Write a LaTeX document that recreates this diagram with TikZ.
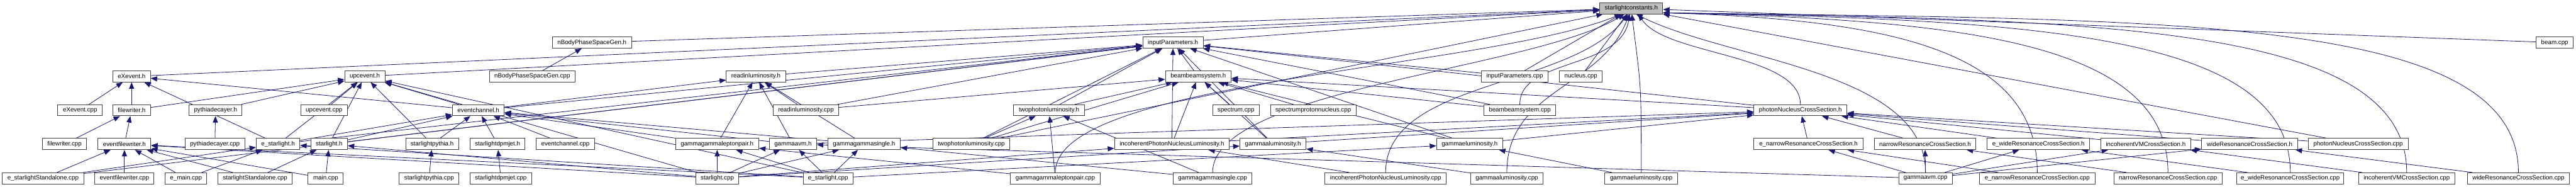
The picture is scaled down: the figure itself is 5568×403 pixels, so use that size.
\documentclass[tikz,border=0pt]{standalone}
\usepackage{fontspec}
\setmainfont{Liberation Sans}
\usepackage{xcolor}
\definecolor{inclblue}{RGB}{25, 25, 112}
\definecolor{boxgray}{RGB}{64, 64, 64}
\usetikzlibrary{
  arrows.meta,
  backgrounds
}

\tikzset{
  file/.style={draw=boxgray, fill=white, line width=1.3pt, minimum height=24pt,
               inner sep=0pt, font=\fontsize{13.3}{16}\selectfont},
  incl/.style={draw=inclblue, line width=1.1pt, -{Triangle[length=14pt,width=11pt]}}
}

\begin{document}
\begin{tikzpicture}[x=1pt, y=-1pt]
\useasboundingbox (0,0) rectangle (5568,403);
% row 0
\node[file, minimum width=136pt, fill=gray!50] (sc) at (3526,18) {starlightconstants.h};
% row 1
\node[file, minimum width=171pt] (nbh) at (1279.5,92) {nBodyPhaseSpaceGen.h};
\node[file, minimum width=131pt] (iph) at (2535.5,92) {inputParameters.h};
\node[file, minimum width=80pt] (beamc) at (5522,92) {beam.cpp};
% row 2
\node[file, minimum width=81pt] (exh) at (284.5,165) {eXevent.h};
\node[file, minimum width=87pt] (uph) at (788.5,165) {upcevent.h};
\node[file, minimum width=185pt] (nbc) at (1150.5,165) {nBodyPhaseSpaceGen.cpp};
\node[file, minimum width=128pt] (rlh) at (1634,165) {readinluminosity.h};
\node[file, minimum width=142pt] (bbh) at (2590,165) {beambeamsystem.h};
\node[file, minimum width=144pt] (ipc) at (3274,165) {inputParameters.cpp};
\node[file, minimum width=92pt] (nuc) at (3417,165) {nucleus.cpp};
% row 3
\node[file, minimum width=96pt] (exc) at (173,238) {eXevent.cpp};
\node[file, minimum width=81pt] (fwh) at (284.5,238) {filewriter.h};
\node[file, minimum width=114pt] (pdh) at (466,238) {pythiadecayer.h};
\node[file, minimum width=101pt] (upc) at (700.5,238) {upcevent.cpp};
\node[file, minimum width=112pt] (ech) at (1034,238) {eventchannel.h};
\node[file, minimum width=142pt] (rlc) at (1742,238) {readinluminosity.cpp};
\node[file, minimum width=153pt] (tplh) at (2267.5,238) {twophotonluminosity.h};
\node[file, minimum width=101pt] (spc) at (2671.5,238) {spectrum.cpp};
\node[file, minimum width=185pt] (sppc) at (2838.5,238) {spectrumprotonnucleus.cpp};
\node[file, minimum width=156pt] (bbc) at (3285,238) {beambeamsystem.cpp};
\node[file, minimum width=201pt] (pnh) at (3891.5,238) {photonNucleusCrossSection.h};
% row 4
\node[file, minimum width=95pt] (fwc) at (139.5,311) {filewriter.cpp};
\node[file, minimum width=114pt] (efwh) at (269,311) {eventfilewriter.h};
\node[file, minimum width=129pt] (pdc) at (464.5,311) {pythiadecayer.cpp};
\node[file, minimum width=94pt] (esh) at (601,311) {e\_starlight.h};
\node[file, minimum width=79pt] (slh) at (711.5,311) {starlight.h};
\node[file, minimum width=114pt] (sph) at (934,311) {starlightpythia.h};
\node[file, minimum width=119pt] (sdh) at (1075.5,311) {starlightdpmjet.h};
\node[file, minimum width=126pt] (ecc) at (1222,311) {eventchannel.cpp};
\node[file, minimum width=180pt] (gglh) at (1550,311) {gammagammaleptonpair.h};
\node[file, minimum width=102pt] (gavh) at (1714,311) {gammaavm.h};
\node[file, minimum width=157pt] (ggsh) at (1867.5,311) {gammagammasingle.h};
\node[file, minimum width=167pt] (tplc) at (2099.5,311) {twophotonluminosity.cpp};
\node[file, minimum width=248pt] (ipnh) at (2533,311) {incoherentPhotonNucleusLuminosity.h};
\node[file, minimum width=143pt] (galh) at (2751.5,311) {gammaaluminosity.h};
\node[file, minimum width=143pt] (gelh) at (3176.5,311) {gammaeluminosity.h};
\node[file, minimum width=236pt] (enrh) at (3909,311) {e\_narrowResonanceCrossSection.h};
\node[file, minimum width=220pt] (nrh) at (4161,311) {narrowResonanceCrossSection.h};
\node[file, minimum width=222pt] (ewrh) at (4406,311) {e\_wideResonanceCrossSection.h};
\node[file, minimum width=194pt] (ivmh) at (4638,311) {incoherentVMCrossSection.h};
\node[file, minimum width=207pt] (wrh) at (4862.5,311) {wideResonanceCrossSection.h};
\node[file, minimum width=216pt] (pnc) at (5097,311) {photonNucleusCrossSection.cpp};
% row 5
\node[file, minimum width=176pt] (essc) at (93,385) {e\_starlightStandalone.cpp};
\node[file, minimum width=128pt] (efwc) at (269,385) {eventfilewriter.cpp};
\node[file, minimum width=90pt] (emc) at (402,385) {e\_main.cpp};
\node[file, minimum width=161pt] (ssc) at (551.5,385) {starlightStandalone.cpp};
\node[file, minimum width=76pt] (mc) at (704,385) {main.cpp};
\node[file, minimum width=129pt] (spyc) at (927.5,385) {starlightpythia.cpp};
\node[file, minimum width=133pt] (sdc) at (1082.5,385) {starlightdpmjet.cpp};
\node[file, minimum width=93pt] (slc) at (1550.5,385) {starlight.cpp};
\node[file, minimum width=108pt] (esc) at (1790,385) {e\_starlight.cpp};
\node[file, minimum width=194pt] (gglc) at (2281,385) {gammagammaleptonpair.cpp};
\node[file, minimum width=170pt] (ggsc) at (2621,385) {gammagammasingle.cpp};
\node[file, minimum width=262pt] (ipnc) at (2995,385) {incoherentPhotonNucleusLuminosity.cpp};
\node[file, minimum width=156pt] (galc) at (3257,385) {gammaaluminosity.cpp};
\node[file, minimum width=157pt] (gelc) at (3547.5,385) {gammaeluminosity.cpp};
\node[file, minimum width=116pt] (gavc) at (4162,385) {gammaavm.cpp};
\node[file, minimum width=249pt] (enrc) at (4403.5,385) {e\_narrowResonanceCrossSection.cpp};
\node[file, minimum width=234pt] (nrc) at (4686,385) {narrowResonanceCrossSection.cpp};
\node[file, minimum width=231pt] (ewrc) at (4950.5,385) {e\_wideResonanceCrossSection.cpp};
\node[file, minimum width=208pt] (ivmc) at (5202,385) {incoherentVMCrossSection.cpp};
\node[file, minimum width=221pt] (wrc) at (5443.5,385) {wideResonanceCrossSection.cpp};

\begin{scope}[on background layer]
% straight includes: child/parent
\foreach \c/\p in {iph/sc, nbh/sc, beamc/sc, exh/sc, uph/sc, nbc/nbh, rlh/iph, bbh/iph,
    ipc/iph, ipc/sc, nuc/sc, exc/exh, fwh/exh, fwh/uph, pdh/uph, upc/uph, ech/uph, ech/exh,
    ech/iph, ech/rlh, rlc/rlh, rlc/iph, rlc/bbh, tplh/bbh, tplh/iph, spc/bbh, sppc/bbh,
    bbc/bbh, bbc/iph, pnh/bbh, pnh/iph,
    fwc/fwh, efwh/fwh, pdc/pdh, esh/uph, esh/exh, esh/ech, esh/iph, slh/uph, slh/ech,
    slh/iph, sph/uph, sph/ech, sdh/ech, ecc/ech, gglh/ech, gglh/rlh, gavh/ech, gavh/rlh,
    gavh/pnh, ggsh/ech, ggsh/rlh, tplc/tplh, tplc/iph, tplc/bbh, tplc/sc, ipnh/bbh,
    ipnh/iph, ipnh/pnh, galh/bbh, galh/iph, galh/pnh, gelh/bbh, gelh/iph, gelh/pnh,
    enrh/pnh, nrh/pnh, ewrh/pnh, ivmh/pnh, wrh/pnh, pnc/pnh, pnc/sc,
    essc/efwh, essc/esh, essc/iph, efwc/efwh, emc/efwh, emc/esh, ssc/slh, ssc/efwh,
    mc/slh, mc/efwh, spyc/sph, sdc/sdh, slc/slh, slc/gglh, slc/gavh, slc/ggsh, slc/efwh,
    slc/ipnh, slc/galh, slc/uph, esc/esh, esc/gglh, esc/gavh, esc/ggsh, esc/efwh,
    esc/gelh, esc/uph, gglc/gglh, gglc/tplh, ggsc/ggsh, ggsc/tplh, ipnc/ipnh, galc/galh,
    gelc/gelh, gavc/gavh, gavc/enrh, gavc/nrh, gavc/ewrh, gavc/ivmh, gavc/wrh,
    enrc/enrh, nrc/nrh, ewrc/ewrh, ivmc/ivmh, wrc/wrh}
  \draw[incl] (\c) -- (\p);
% bent includes: child/rise/anchor/dx/dy
\foreach \c/\h/\a/\dx/\dy in {bbc/100/-105/-20/120, pnh/110/-40/60/90, gglc/200/-150/-300/120,
    ggsc/180/-140/-200/120, ipnc/200/-120/-120/160, galc/180/-110/-60/160,
    gelc/200/-85/20/160, gavc/220/-50/200/100}
  \draw[incl] (\c.north) .. controls +(0,-\h) and +(\dx,\dy) .. (sc.\a);
\foreach \c/\h/\dx in {enrc/260/500, nrc/280/650, ewrc/300/800, ivmc/320/950, wrc/340/1100}
  \draw[incl] (\c.north) .. controls +(0,-\h) and +(\dx,15) .. (sc.-8);
\end{scope}
\end{tikzpicture}
\end{document}
